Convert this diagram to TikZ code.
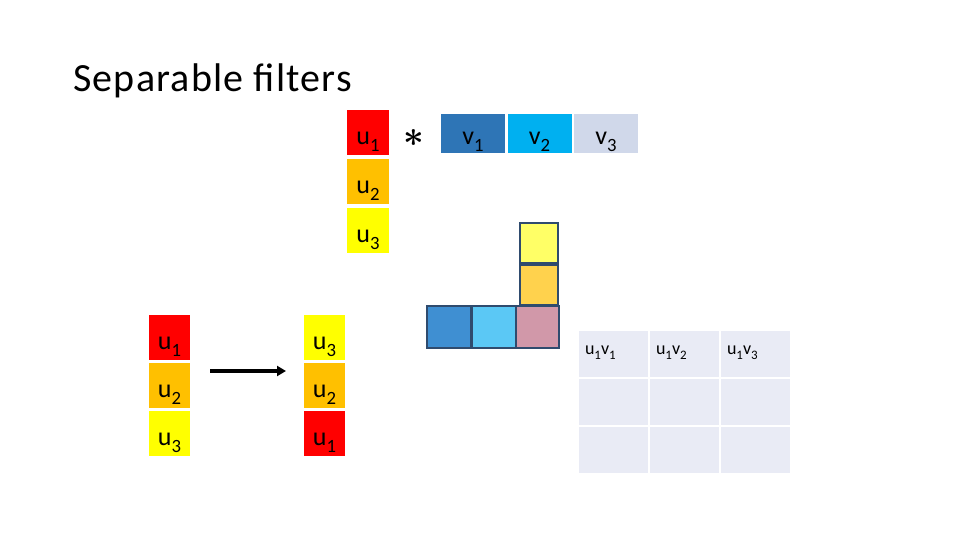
\documentclass[tikz,border=0pt]{standalone}
\usepackage{amsmath}
\usepackage{fontspec}
\setmainfont{Carlito}
\newfontfamily\titlefont[LetterSpace=3]{Carlito}
\usetikzlibrary{positioning,arrows.meta}
\definecolor{uone}{HTML}{FF0000}
\definecolor{utwo}{HTML}{FFC000}
\definecolor{uthree}{HTML}{FFFF00}
\definecolor{vone}{HTML}{2E75B6}
\definecolor{vtwo}{HTML}{00B0F0}
\definecolor{vthree}{HTML}{D0D8EA}
\definecolor{cellbg}{HTML}{E9EBF5}
\definecolor{tapline}{HTML}{2F4B6E}
\definecolor{tapyellow}{HTML}{FFFF66}
\definecolor{taporange}{HTML}{FFD24D}
\definecolor{tapblue}{HTML}{3F8FD2}
\definecolor{tapsky}{HTML}{5BC8F5}
\definecolor{tappink}{HTML}{D198A9}
\newcommand{\lowidx}[1]{\raisebox{-0.28em}{\scalebox{0.72}{#1}}}
\tikzset{
	ubox/.style={shape=rectangle, inner sep=0pt, minimum width=42pt, minimum height=45pt, text height=24pt, text depth=0pt, font=\fontsize{26}{26}\selectfont},
	vbox/.style={shape=rectangle, inner sep=0pt, minimum width=64pt, minimum height=39pt, text height=22pt, text depth=0pt, font=\fontsize{26}{26}\selectfont},
	tapbox/.style={shape=rectangle, draw=tapline, line width=2pt, inner sep=0pt, minimum height=40pt},
	prodcell/.style={shape=rectangle, fill=cellbg, inner sep=0pt, minimum width=69pt, minimum height=46pt},
	prodlabel/.style={anchor=base west, inner sep=0pt, font=\fontsize{18}{18}\selectfont}
}
\begin{document}
\begin{tikzpicture}[x=1pt, y=-1pt]
	\useasboundingbox (0,0) rectangle (960,540);
	% Title:
	\node[anchor=base west, inner sep=0pt, font=\titlefont\fontsize{40}{40}\selectfont] (title) at (73,92){Separable filters};
	% Filter u * v:
	\node[ubox, fill=uone] (u1) at (368,132.5){u\lowidx{1}};
	\node[ubox, fill=utwo] (u2) at (368,181.5){u\lowidx{2}};
	\node[ubox, fill=uthree] (u3) at (368,230){u\lowidx{3}};
	\node[inner sep=0pt, scale=3.6] (conv) at (414,138){$\boldsymbol{\ast}$};
	\node[vbox, fill=vone] (v1) at (473,133.5){v\lowidx{1}};
	\node[vbox, fill=vtwo] (v2) at (539.5,133.5){v\lowidx{2}};
	\node[vbox, fill=vthree] (v3) at (606,133.5){v\lowidx{3}};
	% Taps:
	\node[tapbox, fill=tapyellow, minimum width=38pt] (tap1) at (539,243){};
	\node[tapbox, fill=taporange, minimum width=38pt] (tap2) at (539,285){};
	\node[tapbox, fill=tapblue, minimum width=44pt, minimum height=42pt] (tap3) at (449,327){};
	\node[tapbox, fill=tapsky, minimum width=44pt, minimum height=42pt] (tap4) at (493.5,327){};
	\node[tapbox, fill=tappink, minimum width=43pt, minimum height=42pt] (tap5) at (537.5,327){};
	% Product table:
	\foreach \r/\y in {1/354,2/402,3/450}{
		\foreach \c/\x in {1/613.5,2/684.5,3/755.5}{
			\node[prodcell] (p\r\c) at (\x,\y){};
		}
	}
	\node[prodlabel] (l11) at ([xshift=6pt, yshift=-24pt]p11.north west){u\lowidx{1}v\lowidx{1}};
	\node[prodlabel] (l12) at ([xshift=6pt, yshift=-24pt]p12.north west){u\lowidx{1}v\lowidx{2}};
	\node[prodlabel] (l13) at ([xshift=6pt, yshift=-24pt]p13.north west){u\lowidx{1}v\lowidx{3}};
	% Flip of u:
	\node[ubox, fill=uone, minimum width=41pt] (a1) at (169.5,337){u\lowidx{1}};
	\node[ubox, fill=utwo, minimum width=41pt] (a2) at (169.5,385){u\lowidx{2}};
	\node[ubox, fill=uthree, minimum width=41pt] (a3) at (169.5,433){u\lowidx{3}};
	\node[ubox, fill=uthree, minimum width=41pt] (b1) at (324.5,337){u\lowidx{3}};
	\node[ubox, fill=utwo, minimum width=41pt] (b2) at (324.5,385){u\lowidx{2}};
	\node[ubox, fill=uone, minimum width=41pt] (b3) at (324.5,433){u\lowidx{1}};
	\coordinate (flipstart) at (210,371);
	\coordinate (flipend) at (286,371);
	\draw[line width=3.5pt, -{Triangle[length=9pt, width=10pt]}] (flipstart) -- (flipend);
\end{tikzpicture}
\end{document}
